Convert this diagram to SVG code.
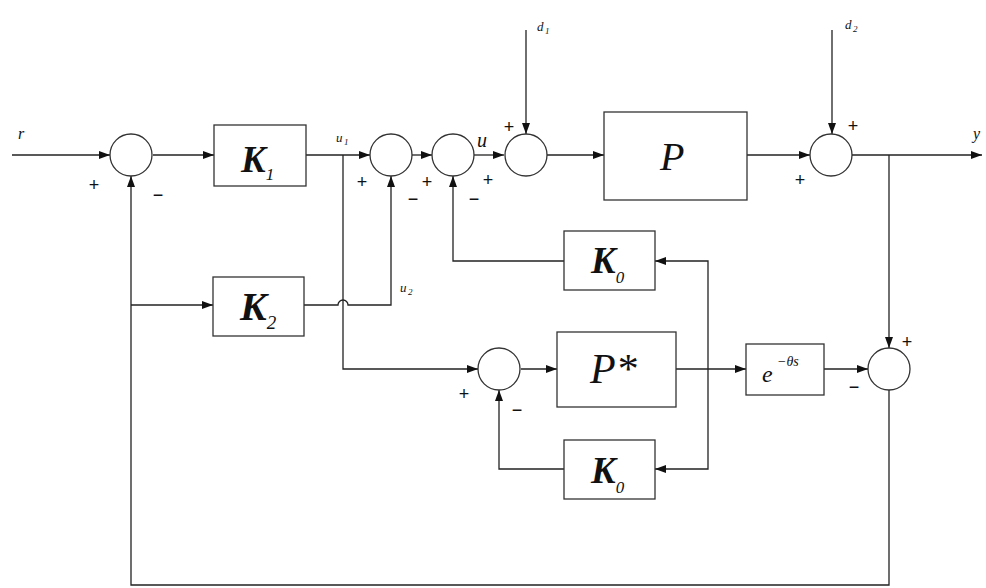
<svg xmlns="http://www.w3.org/2000/svg" width="986" height="588" viewBox="0 0 986 588">
<style>
.ln{fill:none;stroke:#222;stroke-width:1.3}
.bx{fill:#fff;stroke:#333;stroke-width:1.3}
.sm{fill:#fff;stroke:#333;stroke-width:1.3}
.t{font-family:"Liberation Serif","DejaVu Serif",serif;font-style:italic;fill:#111}
.k{font-family:"Liberation Serif","DejaVu Serif",serif;font-style:italic;font-weight:bold;fill:#111}
.s{font-family:"Liberation Sans","DejaVu Sans",sans-serif;font-size:18px;fill:#111;text-anchor:middle}
</style>
<defs>
<marker id="ah" markerWidth="11" markerHeight="8" refX="11" refY="4" orient="auto" markerUnits="userSpaceOnUse">
<path d="M0,0 L11,4 L0,8 z" fill="#111"/>
</marker>
</defs>
<rect width="986" height="588" fill="#fff"/>
<g id="connectors">
<path class="ln" d="M12,155 H110" marker-end="url(#ah)"/>
<path class="ln" d="M153,155 H214" marker-end="url(#ah)"/>
<path class="ln" d="M306,155 H370" marker-end="url(#ah)"/>
<path class="ln" d="M412,155 H432" marker-end="url(#ah)"/>
<path class="ln" d="M474,155 H504" marker-end="url(#ah)"/>
<path class="ln" d="M526,30 V134" marker-end="url(#ah)"/>
<path class="ln" d="M547,155 H604" marker-end="url(#ah)"/>
<path class="ln" d="M747,155 H810" marker-end="url(#ah)"/>
<path class="ln" d="M832,30 V134" marker-end="url(#ah)"/>
<path class="ln" d="M852,155 H982" marker-end="url(#ah)"/>
<path class="ln" d="M889,155 V348" marker-end="url(#ah)"/>
<path class="ln" d="M889,390 V585 H131 V176" marker-end="url(#ah)"/>
<path class="ln" d="M131,305 H213" marker-end="url(#ah)"/>
<path class="ln" d="M304,305 H338 A5,5 0 0 1 348,305 H391 V176" marker-end="url(#ah)"/>
<path class="ln" d="M343,155 V369 H478" marker-end="url(#ah)"/>
<path class="ln" d="M521,369 H557" marker-end="url(#ah)"/>
<path class="ln" d="M676,369 H746" marker-end="url(#ah)"/>
<path class="ln" d="M824,369 H868" marker-end="url(#ah)"/>
<path class="ln" d="M708,369 V261 H655" marker-end="url(#ah)"/>
<path class="ln" d="M708,369 V469 H655" marker-end="url(#ah)"/>
<path class="ln" d="M564,261 H453 V176" marker-end="url(#ah)"/>
<path class="ln" d="M564,469 H499 V390" marker-end="url(#ah)"/>
</g>
<g id="sum1"><circle class="sm" cx="131" cy="155" r="21"/><text class="s" x="94" y="191">+</text><text class="s" x="158" y="201">−</text></g>
<g id="sum2"><circle class="sm" cx="391" cy="155" r="21"/><text class="s" x="362" y="188">+</text><text class="s" x="413" y="205">−</text></g>
<g id="sum3"><circle class="sm" cx="453" cy="155" r="21"/><text class="s" x="427" y="188">+</text><text class="s" x="474" y="205">−</text></g>
<g id="sum4"><circle class="sm" cx="526" cy="155" r="21"/><text class="s" x="488" y="186">+</text><text class="s" x="509" y="133">+</text></g>
<g id="sum5"><circle class="sm" cx="831" cy="155" r="21"/><text class="s" x="853" y="132">+</text><text class="s" x="800" y="186">+</text></g>
<g id="sum6"><circle class="sm" cx="499" cy="369" r="21"/><text class="s" x="464" y="400">+</text><text class="s" x="517" y="416">−</text></g>
<g id="sum7"><circle class="sm" cx="889" cy="369" r="21"/><text class="s" x="907" y="348">+</text><text class="s" x="854" y="393">−</text></g>
<g id="K1"><rect class="bx" x="214" y="125" width="92" height="61"/><text class="k" x="241" y="172" font-size="37">K<tspan font-size="17" font-weight="normal" dy="8">1</tspan></text></g>
<g id="K2"><rect class="bx" x="213" y="277" width="91" height="59"/><text class="k" x="240" y="320" font-size="40">K<tspan font-size="19" font-weight="normal" dy="9">2</tspan></text></g>
<g id="P"><rect class="bx" x="604" y="112" width="143" height="88"/><text class="t" x="660" y="170" font-size="40">P</text></g>
<g id="K0a"><rect class="bx" x="564" y="231" width="91" height="59"/><text class="k" x="591" y="273" font-size="37">K<tspan font-size="17" font-weight="normal" dy="10">0</tspan></text></g>
<g id="Pstar"><rect class="bx" x="557" y="332" width="119" height="75"/><text class="t" x="590" y="383" font-size="42">P*</text></g>
<g id="delay"><rect class="bx" x="746" y="344" width="78" height="51"/><text class="t" x="762" y="382" font-size="24">e</text><text class="t" x="777" y="366" font-size="14">−θs</text></g>
<g id="K0b"><rect class="bx" x="564" y="440" width="91" height="59"/><text class="k" x="591" y="483" font-size="37">K<tspan font-size="17" font-weight="normal" dy="10">0</tspan></text></g>
<g id="labels">
<text class="t" x="18" y="139" font-size="16">r</text>
<text class="t" x="336" y="142" font-size="13">u</text><text class="t" x="344" y="145" font-size="9">1</text>
<text class="t" x="477" y="147" font-size="20">u</text>
<text class="t" x="537" y="31" font-size="13">d</text><text class="t" x="545" y="34" font-size="9">1</text>
<text class="t" x="845" y="29" font-size="13">d</text><text class="t" x="853" y="32" font-size="9">2</text>
<text class="t" x="400" y="292" font-size="13">u</text><text class="t" x="408" y="295" font-size="9">2</text>
<text class="t" x="973" y="139" font-size="16">y</text>
</g>
</svg>
